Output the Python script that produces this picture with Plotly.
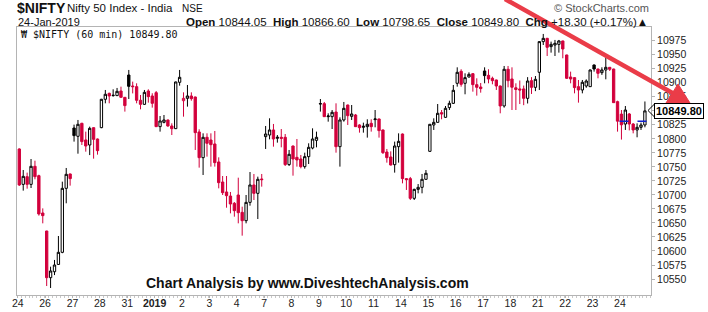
import plotly.graph_objects as go

# ---------------- DATA ----------------
day_labels = ["24", "26", "27", "28", "31", "2019", "2", "3", "4", "7", "8", "9",
              "10", "11", "14", "15", "16", "17", "18", "21", "22", "23", "24"]
bars_per_day = 7
prior_close = 10790.0

opens = [
    10781.9, 10718.8, 10732.5, 10718.8, 10751.0, 10734.3, 10667.7,
    10635.6, 10552.4, 10563.0, 10576.0, 10597.6, 10711.7, 10737.3,
    10819.3, 10804.5, 10827.7, 10798.0, 10789.0, 10819.9, 10799.7,
    10819.9, 10870.5, 10881.1, 10877.0, 10877.0, 10885.3, 10874.0,
    10913.8, 10894.2, 10893.0, 10868.7, 10861.5, 10885.3, 10876.4,
    10882.3, 10821.7, 10829.4, 10833.6, 10822.9, 10818.1, 10900.8,
    10868.0, 10872.2, 10876.4, 10874.6, 10812.2, 10766.4, 10802.7,
    10797.9, 10790.8, 10758.7, 10723.0, 10705.2, 10698.0, 10685.0,
    10699.8, 10668.9, 10654.0, 10686.7, 10717.7, 10702.8, 10728.4,
    10803.9, 10806.8, 10815.8, 10800.9, 10802.7, 10802.7, 10754.0,
    10787.2, 10767.0, 10764.0, 10750.4, 10768.2, 10783.6, 10797.3,
    10862.1, 10862.7, 10839.5, 10839.5, 10847.8, 10786.0, 10833.6,
    10860.3, 10840.1, 10842.5, 10824.7, 10820.5, 10821.7, 10827.6,
    10834.2, 10835.4, 10815.8, 10776.5, 10767.6, 10753.9, 10786.0,
    10808.6, 10729.0, 10729.0, 10693.9, 10709.9, 10713.5, 10727.8,
    10777.7, 10824.7, 10829.4, 10846.7, 10838.3, 10855.6, 10863.3,
    10899.0, 10920.4, 10899.0, 10910.3, 10916.2, 10896.6, 10892.4,
    10921.0, 10913.2, 10907.9, 10904.9, 10894.2, 10858.6, 10924.0,
    10906.7, 10891.0, 10889.0, 10889.0, 10872.2, 10903.7, 10891.8,
    10918.6, 10973.3, 10979.2, 10964.4, 10967.3, 10968.5, 10974.5,
    10949.5, 10910.3, 10909.1, 10893.0, 10887.1, 10894.2, 10893.0,
    10931.7, 10924.5, 10918.0, 10922.8, 10927.5, 10924.5, 10866.3,
    10844.05, 10826.4, 10844.3, 10826.4, 10815.8, 10820.5, 10824.7,
]
highs = [
    10783.0, 10744.4, 10739.7, 10764.0, 10761.0, 10736.0, 10676.0,
    10636.0, 10572.0, 10584.0, 10626.7, 10723.6, 10748.0, 10738.0,
    10825.3, 10833.6, 10828.5, 10812.8, 10821.7, 10820.5, 10800.5,
    10871.2, 10887.1, 10882.3, 10888.3, 10890.7, 10893.0, 10874.5,
    10922.8, 10902.0, 10899.0, 10878.2, 10887.1, 10888.3, 10881.2,
    10885.3, 10840.7, 10842.5, 10834.2, 10827.6, 10902.0, 10922.8,
    10882.9, 10896.0, 10882.9, 10875.2, 10817.0, 10809.8, 10809.8,
    10809.8, 10814.0, 10767.0, 10733.7, 10733.7, 10705.2, 10687.3,
    10730.7, 10679.0, 10699.8, 10740.8, 10737.3, 10732.5, 10737.3,
    10822.9, 10836.6, 10826.5, 10806.8, 10817.5, 10808.6, 10780.1,
    10788.0, 10799.7, 10771.2, 10775.3, 10792.0, 10818.7, 10812.8,
    10871.0, 10865.7, 10845.5, 10851.4, 10863.3, 10838.3, 10865.7,
    10861.0, 10860.3, 10844.3, 10826.0, 10828.8, 10834.8, 10834.8,
    10851.4, 10836.0, 10816.5, 10781.9, 10777.7, 10795.0, 10809.8,
    10809.5, 10730.0, 10732.0, 10711.0, 10719.4, 10737.3, 10744.4,
    10826.5, 10836.6, 10862.1, 10851.4, 10858.5, 10868.0, 10896.0,
    10927.5, 10924.0, 10916.8, 10918.6, 10917.0, 10907.9, 10899.6,
    10927.5, 10924.0, 10910.9, 10905.5, 10895.0, 10929.9, 10929.9,
    10927.5, 10899.0, 10904.0, 10895.0, 10910.0, 10910.0, 10912.0,
    10974.0, 10987.0, 10980.0, 10973.3, 10976.3, 10976.3, 10975.0,
    10950.0, 10919.8, 10909.8, 10904.9, 10904.9, 10906.0, 10923.5,
    10932.5, 10925.0, 10927.5, 10945.3, 10928.0, 10925.0, 10868.0,
    10851.4, 10858.5, 10846.0, 10828.0, 10827.6, 10828.8, 10866.6,
]
lows = [
    10716.0, 10707.6, 10711.1, 10712.3, 10727.8, 10663.0, 10649.3,
    10537.5, 10534.0, 10557.0, 10575.0, 10596.0, 10685.0, 10716.5,
    10795.0, 10773.5, 10789.0, 10777.1, 10771.0, 10764.6, 10771.8,
    10819.0, 10863.3, 10863.3, 10875.2, 10876.5, 10873.5, 10848.5,
    10871.0, 10881.0, 10863.3, 10852.6, 10860.5, 10864.5, 10855.6,
    10821.0, 10812.8, 10827.6, 10821.5, 10806.8, 10817.5, 10894.8,
    10839.5, 10857.4, 10868.0, 10780.1, 10748.6, 10735.5, 10768.2,
    10750.4, 10750.4, 10711.7, 10699.8, 10677.2, 10667.1, 10661.2,
    10649.3, 10627.3, 10649.3, 10680.8, 10690.9, 10657.0, 10714.7,
    10781.9, 10799.1, 10786.0, 10793.2, 10784.8, 10751.6, 10751.6,
    10734.3, 10750.4, 10747.4, 10746.8, 10755.1, 10781.3, 10784.8,
    10848.5, 10839.0, 10830.6, 10817.5, 10775.3, 10750.4, 10830.6,
    10824.7, 10833.6, 10821.0, 10811.0, 10811.0, 10802.1, 10812.8,
    10820.5, 10802.1, 10773.0, 10757.5, 10752.5, 10739.7, 10757.5,
    10720.6, 10708.8, 10690.9, 10690.9, 10702.8, 10702.8, 10727.0,
    10777.0, 10815.8, 10828.8, 10834.8, 10837.5, 10851.4, 10862.1,
    10893.0, 10893.0, 10879.4, 10909.1, 10884.1, 10877.0, 10882.3,
    10899.0, 10899.0, 10897.2, 10887.1, 10845.5, 10855.6, 10891.8,
    10851.4, 10851.4, 10862.0, 10860.0, 10863.0, 10880.0, 10885.0,
    10887.1, 10967.3, 10947.7, 10953.7, 10947.7, 10953.7, 10943.6,
    10906.7, 10899.0, 10881.1, 10864.5, 10881.1, 10891.0, 10892.5,
    10919.8, 10907.9, 10914.0, 10906.1, 10921.0, 10864.0, 10812.8,
    10798.65, 10815.8, 10815.0, 10809.8, 10802.7, 10815.8, 10820.5,
]
closes = [
    10717.7, 10733.1, 10718.8, 10751.0, 10732.5, 10666.0, 10663.0,
    10552.4, 10564.3, 10575.0, 10597.6, 10711.7, 10736.7, 10729.0,
    10805.7, 10825.9, 10795.0, 10787.2, 10818.7, 10799.1, 10778.9,
    10870.5, 10879.4, 10876.4, 10877.6, 10884.7, 10874.0, 10859.2,
    10893.6, 10893.0, 10868.7, 10861.5, 10882.9, 10875.2, 10863.3,
    10821.7, 10831.8, 10833.6, 10822.9, 10818.1, 10901.4, 10909.7,
    10872.2, 10876.4, 10871.6, 10811.0, 10766.4, 10802.7, 10792.0,
    10789.6, 10757.5, 10721.8, 10704.0, 10698.6, 10683.8, 10671.9,
    10668.3, 10654.0, 10686.7, 10717.7, 10702.8, 10727.8, 10727.2,
    10808.6, 10815.8, 10799.7, 10802.7, 10800.9, 10754.0, 10772.4,
    10764.0, 10762.3, 10750.4, 10768.2, 10784.8, 10799.7, 10802.7,
    10862.7, 10839.5, 10840.7, 10847.3, 10786.0, 10833.6, 10854.4,
    10841.3, 10844.3, 10821.7, 10819.9, 10822.3, 10825.9, 10821.7,
    10835.4, 10814.6, 10775.3, 10766.4, 10753.3, 10787.2, 10795.5,
    10729.0, 10727.2, 10693.9, 10709.9, 10713.5, 10727.8, 10738.5,
    10825.9, 10829.4, 10845.5, 10844.3, 10854.4, 10863.3, 10886.5,
    10918.6, 10897.2, 10909.1, 10915.0, 10896.6, 10891.8, 10889.5,
    10912.7, 10906.7, 10903.7, 10894.2, 10858.6, 10924.0, 10903.7,
    10892.0, 10888.0, 10887.0, 10872.2, 10903.1, 10891.8, 10906.1,
    10973.3, 10979.2, 10963.2, 10968.5, 10970.3, 10974.5, 10960.2,
    10907.9, 10906.7, 10891.3, 10887.1, 10900.8, 10903.1, 10922.8,
    10924.5, 10916.8, 10922.8, 10927.5, 10924.0, 10864.5, 10831.5,
    10825.0, 10851.4, 10826.4, 10815.8, 10820.5, 10824.7, 10849.8,
]
y_ticks = [10550, 10575, 10600, 10625, 10650, 10675, 10700, 10725, 10750, 10775,
           10800, 10825, 10850, 10875, 10900, 10925, 10950, 10975]
hidden_tick = 10850   # covered by the last-price tag in the reference

# ---------------- STYLE ----------------
RED = "#d2003c"
BLACK = "#000000"
AXIS = "#b4b4b4"
W, H = 708, 312
L, R, T, B = 17, 651, 27, 295   # plot area in pixels

def px(xp):
    return (xp - L) / (R - L)

def py(yp):
    return (B - yp) / (B - T)

n = len(closes)
xs = list(range(n))
prev = [prior_close] + closes[:-1]
up_idx = [i for i in xs if closes[i] >= prev[i]]
dn_idx = [i for i in xs if closes[i] < prev[i]]

def sub(arr, idx):
    return [arr[i] for i in idx]

fig = go.Figure()
fig.add_trace(go.Candlestick(
    x=up_idx, open=sub(opens, up_idx), high=sub(highs, up_idx),
    low=sub(lows, up_idx), close=sub(closes, up_idx),
    increasing=dict(line=dict(color=BLACK, width=1), fillcolor="white"),
    decreasing=dict(line=dict(color=BLACK, width=1), fillcolor=BLACK),
    whiskerwidth=0, showlegend=False, hoverinfo="skip"))
fig.add_trace(go.Candlestick(
    x=dn_idx, open=sub(opens, dn_idx), high=sub(highs, dn_idx),
    low=sub(lows, dn_idx), close=sub(closes, dn_idx),
    increasing=dict(line=dict(color=RED, width=1), fillcolor="white"),
    decreasing=dict(line=dict(color=RED, width=1), fillcolor=RED),
    whiskerwidth=0, showlegend=False, hoverinfo="skip"))

tickvals = [d * bars_per_day - 0.4 for d in range(len(day_labels))]
ticktext = ["<b>%s</b>" % t if t == "2019" else t for t in day_labels]

x_lo = -0.59
x_hi = x_lo + (R - L) / 3.91
y_lo, y_hi = 10521.5, 10999.4

fig.update_layout(
    width=W, height=H,
    margin=dict(l=L, r=W - R, t=T, b=H - B, pad=0),
    paper_bgcolor="white", plot_bgcolor="white",
    font=dict(family="Liberation Sans, Arial, sans-serif", size=10, color="#222"),
    boxgap=0.15,
    xaxis=dict(range=[x_lo, x_hi], rangeslider=dict(visible=False), automargin=False,
               tickmode="array", tickvals=tickvals, ticktext=ticktext,
               showgrid=False, zeroline=False, showline=True, mirror=True,
               linecolor=AXIS, linewidth=1, ticks="outside", ticklen=2,
               tickcolor=AXIS, tickfont=dict(size=10.5, color="#222"),
               ticklabelstandoff=-4,
               minor=dict(tick0=-0.5, dtick=1, ticks="outside", ticklen=2,
                          tickcolor="#c8c8c8", showgrid=False)),
    yaxis=dict(range=[y_lo, y_hi], side="right", tickmode="array", automargin=False,
               tickvals=y_ticks,
               ticktext=["" if v == hidden_tick else str(v) for v in y_ticks],
               showgrid=False, zeroline=False, showline=True, mirror=True,
               linecolor=AXIS, linewidth=1, ticks="outside", ticklen=3,
               tickcolor=AXIS, tickfont=dict(size=10.5, color="#222")),
)

# day summary derived from the data
day_start = (len(day_labels) - 1) * bars_per_day
d_open = opens[day_start]
d_high = max(highs[day_start:])
d_low = min(lows[day_start:])
d_close = closes[-1]
d_prev = closes[day_start - 1]
chg = d_close - d_prev
pct = chg / d_prev * 100

ann = []
ann.append(dict(text="<b>$NIFTY</b>", x=px(15), y=py(8), font=dict(size=14, color="#111")))
ann.append(dict(text="Nifty 50 Index - India", x=px(65), y=py(8), font=dict(size=11.5, color="#111")))
ann.append(dict(text="NSE", x=px(180), y=py(8.5), font=dict(size=10, color="#111")))
ann.append(dict(text="24-Jan-2019", x=px(16), y=py(21.5), font=dict(size=11, color="#111")))
hdr = ("<b>Open</b> %.2f  <b>High</b> %.2f  <b>Low</b> %.2f  <b>Close</b> %.2f  "
       "<b>Chg</b> %+.2f (%+.2f%%)\u25b2" % (d_open, d_high, d_low, d_close, chg, pct))
ann.append(dict(text=hdr, x=px(650), y=py(21.5), xanchor="right", font=dict(size=11.5, color="#111")))
ann.append(dict(text="\u00a9 StockCharts.com", x=px(651), y=py(8), xanchor="right",
                font=dict(size=11, color="#555")))
ann.append(dict(text="\u20a9 $NIFTY (60 min) %.2f" % d_close, x=px(19), y=py(35),
                font=dict(family="DejaVu Sans Mono, monospace", size=10, color="#111")))
ann.append(dict(text="<b>Chart Analysis by www.DiveshtechAnalysis.com</b>", x=px(307), y=py(283),
                xanchor="center",
                font=dict(family="Liberation Sans, Arial, sans-serif", size=14, color="#111")))
for a in ann:
    a.setdefault("xanchor", "left")
    a.update(xref="paper", yref="paper", yanchor="middle", showarrow=False)
    fig.add_annotation(**a)

# last price tag
fig.add_annotation(text="<b>%.2f</b>" % d_close, xref="paper", yref="y", x=px(654), y=d_close,
                   xanchor="left", yanchor="middle", showarrow=False,
                   font=dict(size=11, color="#000"), bgcolor="white",
                   bordercolor="#000", borderwidth=1, borderpad=1)
fig.add_shape(type="path", xref="paper", yref="paper",
              path="M %f %f L %f %f L %f %f" % (px(654), py(104.5), px(648), py(110.5), px(654), py(116.5)),
              line=dict(color="#000", width=1))

# previous close marker for the current day
fig.add_shape(type="line", xref="x", yref="y", x0=day_start - 0.5, x1=x_hi,
              y0=d_prev, y1=d_prev, line=dict(color="#1020d0", width=1.5, dash="dash"))

# trend line with arrow head
fig.add_shape(type="line", xref="paper", yref="paper", x0=px(505), y0=py(-1),
              x1=px(676), y1=py(95), line=dict(color="#ea3c48", width=4.5))
fig.add_shape(type="path", xref="paper", yref="paper",
              path="M %f %f L %f %f L %f %f Z" % (px(690), py(103), px(666), py(103), px(678), py(84)),
              fillcolor="#ea3c48", line=dict(color="#ea3c48", width=1))

fig.write_html("out.html")
